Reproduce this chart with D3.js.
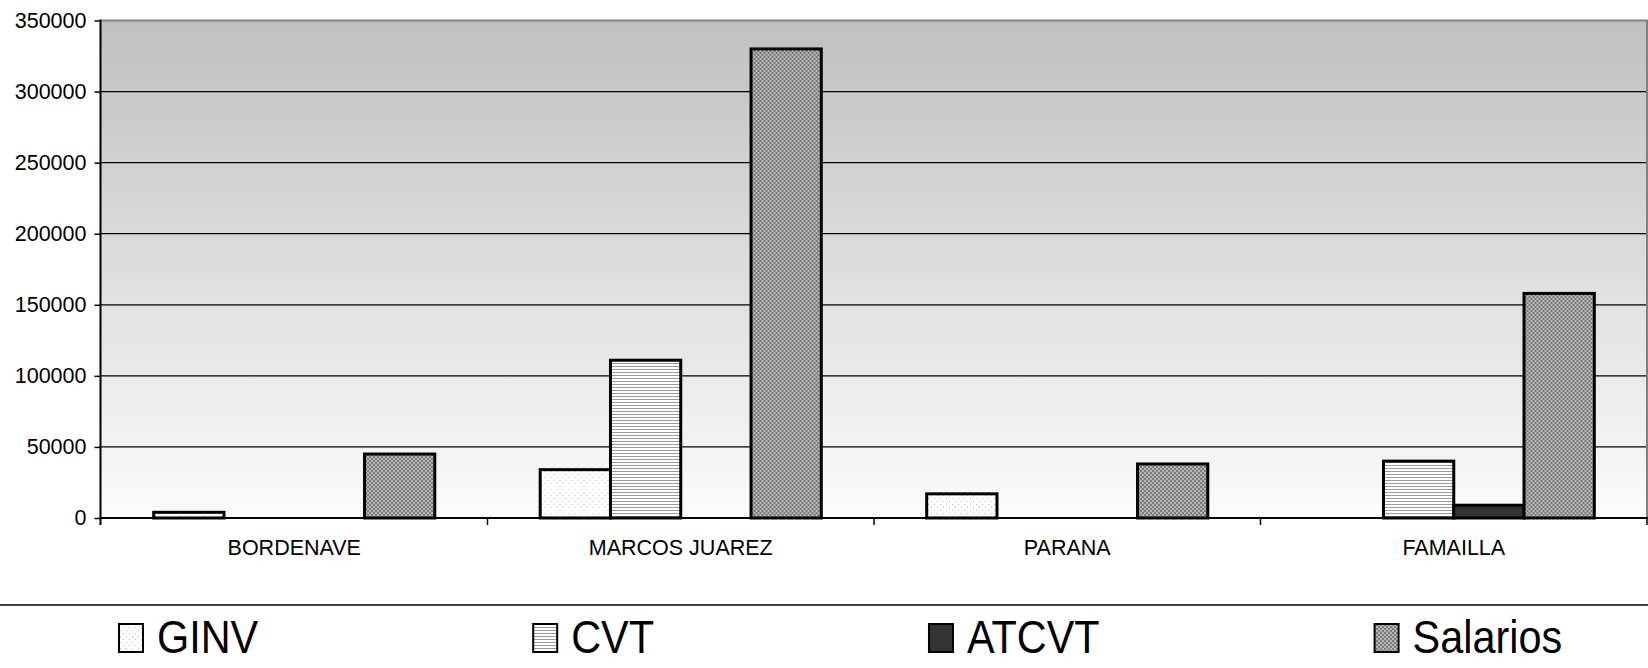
<!DOCTYPE html>
<html><head><meta charset="utf-8">
<script src="https://cdn.jsdelivr.net/npm/d3@7"></script>
<style>html,body{margin:0;padding:0;background:#fff;}svg{display:block;font-family:"Liberation Sans",Arial,sans-serif;}</style>
</head><body>
<svg id="chart" width="1648" height="668"></svg>
<script>
const categories = ["BORDENAVE", "MARCOS JUAREZ", "PARANA", "FAMAILLA"];
const seriesNames = ["GINV", "CVT", "ATCVT", "Salarios"];
const GINV = [4000, 34000, 17000, 0];
const CVT = [0, 111000, 0, 40000];
const ATCVT = [0, 0, 0, 9000];
const Salarios = [45000, 330000, 38000, 158000];
const yTicks = [0, 50000, 100000, 150000, 200000, 250000, 300000, 350000];

const seriesValues = {GINV, CVT, ATCVT, Salarios};
const svg = d3.select("#chart");
const W = 1648, H = 668;
const m = {left: 101, right: 1647, top: 20.5, bottom: 518};

const defs = svg.append("defs");
const grad = defs.append("linearGradient").attr("id","bg").attr("x1",0).attr("y1",0).attr("x2",0).attr("y2",1);
grad.append("stop").attr("offset","0%").attr("stop-color","#c0c0c0");
grad.append("stop").attr("offset","100%").attr("stop-color","#fbfbfb");

// patterns
const pG = defs.append("pattern").attr("id","pGINV").attr("patternUnits","userSpaceOnUse").attr("width",6).attr("height",6);
pG.append("rect").attr("width",6).attr("height",6).attr("fill","#ffffff");
pG.append("rect").attr("x",0).attr("y",0).attr("width",1).attr("height",1).attr("fill","#b8b8b8");
pG.append("rect").attr("x",3).attr("y",3).attr("width",1).attr("height",1).attr("fill","#b8b8b8");

const pC = defs.append("pattern").attr("id","pCVT").attr("patternUnits","userSpaceOnUse").attr("width",4).attr("height",3);
pC.append("rect").attr("width",4).attr("height",3).attr("fill","#ffffff");
pC.append("rect").attr("x",0).attr("y",0).attr("width",4).attr("height",1).attr("fill","#9a9a9a");

const pS = defs.append("pattern").attr("id","pSal").attr("patternUnits","userSpaceOnUse").attr("width",4).attr("height",4);
pS.append("rect").attr("width",4).attr("height",4).attr("fill","#b4b4b4");
pS.append("rect").attr("x",0).attr("y",0).attr("width",2).attr("height",2).attr("fill","#7c7c7c");
pS.append("rect").attr("x",2).attr("y",2).attr("width",2).attr("height",2).attr("fill","#7c7c7c");

const fills = {GINV:"url(#pGINV)", CVT:"url(#pCVT)", ATCVT:"#333333", Salarios:"url(#pSal)"};

// scales
const x0 = d3.scaleBand().domain(categories).range([m.left, m.right]).paddingInner(0).paddingOuter(0);
const x1 = d3.scaleBand().domain(seriesNames).range([0, x0.bandwidth()]).paddingInner(0).paddingOuter(0.75);
const y = d3.scaleLinear().domain([0, 350000]).range([m.bottom, m.top]);

// plot background
svg.append("rect").attr("x", m.left).attr("y", m.top).attr("width", m.right - m.left).attr("height", m.bottom - m.top).attr("fill","url(#bg)");

// gridlines
svg.append("g").selectAll("line").data(yTicks.filter(d => d > 0 && d < 350000)).join("line")
  .attr("x1", m.left).attr("x2", m.right).attr("y1", d => y(d)).attr("y2", d => y(d))
  .attr("stroke","#000").attr("stroke-width",1.2);

// top & right border
svg.append("line").attr("x1", m.left).attr("x2", m.right+1).attr("y1", m.top).attr("y2", m.top).attr("stroke","#808080").attr("stroke-width",2);
svg.append("line").attr("x1", m.right).attr("x2", m.right).attr("y1", m.top).attr("y2", m.bottom).attr("stroke","#808080").attr("stroke-width",2);

// bars
const groups = svg.append("g").selectAll("g").data(categories).join("g")
  .attr("transform", d => `translate(${x0(d)},0)`);
groups.selectAll("rect").data((c, i) => seriesNames.map(s => ({s, v: seriesValues[s][i]})).filter(d => d.v > 0)).join("rect")
  .attr("x", d => x1(d.s)).attr("width", x1.bandwidth())
  .attr("y", d => y(d.v)).attr("height", d => y(0) - y(d.v))
  .attr("fill", d => fills[d.s]).attr("stroke","#000").attr("stroke-width",3);

// y axis
const yAxis = d3.axisLeft(y).tickValues(yTicks).tickSize(6).tickPadding(8).tickFormat(d3.format("d"));
const gy = svg.append("g").attr("transform", `translate(${m.left - 0.5},0)`).call(yAxis);
gy.select(".domain").remove();
gy.selectAll(".tick line").attr("stroke","#000").attr("stroke-width",1.5);
gy.selectAll(".tick text").attr("font-size", 21.5).attr("fill","#000").attr("font-family","Liberation Sans, Arial, sans-serif");
svg.append("line").attr("x1", m.left - 0.5).attr("x2", m.left - 0.5).attr("y1", m.top - 1).attr("y2", m.bottom + 7).attr("stroke","#000").attr("stroke-width",2);

// x axis
const xAxis = d3.axisBottom(x0).tickSize(0).tickPadding(22);
const gx = svg.append("g").attr("transform", `translate(0,${m.bottom})`).call(xAxis);
gx.select(".domain").remove();
gx.selectAll(".tick text").attr("font-size", 21.5).attr("fill","#000").attr("font-family","Liberation Sans, Arial, sans-serif");
svg.append("line").attr("x1", m.left).attr("x2", m.right + 1).attr("y1", m.bottom).attr("y2", m.bottom).attr("stroke","#000").attr("stroke-width",2);
svg.append("g").selectAll("line").data(categories.slice(1).concat(["__end"])).join("line")
  .attr("x1", d => d === "__end" ? m.right : x0(d)).attr("x2", d => d === "__end" ? m.right : x0(d))
  .attr("y1", m.bottom).attr("y2", m.bottom + 7).attr("stroke","#000").attr("stroke-width",1.5);

// legend
svg.append("line").attr("x1",0).attr("x2",W).attr("y1",605).attr("y2",605).attr("stroke","#000").attr("stroke-width",1.5);
const lg = svg.append("g");
let lx = 118;
seriesNames.forEach(s => {
  lg.append("rect").attr("x", lx + 1).attr("y", 624).attr("width", 24).attr("height", 28)
    .attr("fill", fills[s]).attr("stroke","#000").attr("stroke-width",2);
  const tx = lx + 39;
  const t = lg.append("text").attr("transform", `translate(${tx},653) scale(0.9,1)`).attr("font-size", 46).attr("fill","#000").text(s);
  const w = t.node().getComputedTextLength() * 0.9;
  lx = tx + w + 274;
});
</script>
</body></html>
